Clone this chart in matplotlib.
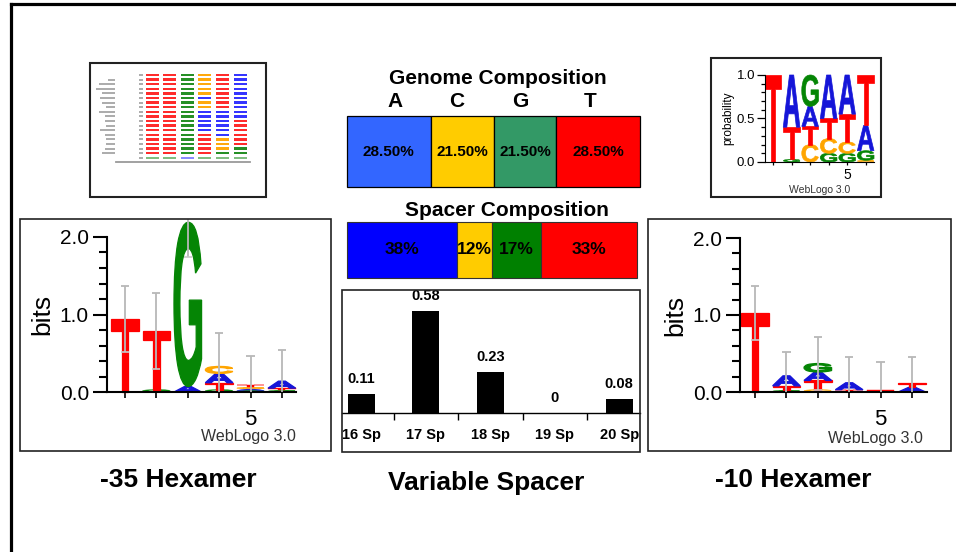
import matplotlib
matplotlib.use('Agg')
import matplotlib.pyplot as plt
from matplotlib.patches import Rectangle, PathPatch
from matplotlib.textpath import TextPath
from matplotlib.font_manager import FontProperties
from matplotlib.transforms import Affine2D
from matplotlib.lines import Line2D
import numpy as np

plt.rcParams['font.family'] = ['Liberation Sans', 'DejaVu Sans']

# DATA
bases = ['A', 'C', 'G', 'T']
genome_pct = [28.5, 21.5, 21.5, 28.5]
genome_labels = ['28.50%', '21.50%', '21.50%', '28.50%']
spacer_pct = [38, 12, 17, 33]
spacer_labels = ['38%', '12%', '17%', '33%']

spacer_lengths = ['16 Sp', '17 Sp', '18 Sp', '19 Sp', '20 Sp']
spacer_freq = [0.11, 0.58, 0.23, 0.0, 0.08]
spacer_freq_labels = ['0.11', '0.58', '0.23', '0', '0.08']

# -35 hexamer, bits per letter, stacked bottom -> top
minus35_bits = [
    [('T', 0.94)],
    [('G', 0.03), ('T', 0.76)],
    [('A', 0.07), ('G', 2.12)],
    [('G', 0.03), ('T', 0.09), ('A', 0.12), ('C', 0.09)],
    [('G', 0.02), ('A', 0.02), ('C', 0.02), ('T', 0.03)],
    [('G', 0.02), ('T', 0.03), ('A', 0.09)],
]
minus35_err = [0.43, 0.49, 0.45, 0.43, 0.37, 0.40]

# -10 hexamer, bits
minus10_bits = [
    [('T', 1.03)],
    [('G', 0.02), ('T', 0.06), ('A', 0.13)],
    [('C', 0.03), ('T', 0.12), ('A', 0.11), ('G', 0.11)],
    [('T', 0.03), ('A', 0.09)],
    [('A', 0.01), ('T', 0.01)],
    [('A', 0.06), ('T', 0.06)],
]
minus10_err = [0.35, 0.31, 0.35, 0.34, 0.37, 0.34]

# -10 hexamer, probability
minus10_prob = [
    [('T', 1.0)],
    [('G', 0.03), ('T', 0.37), ('A', 0.60)],
    [('C', 0.20), ('T', 0.21), ('A', 0.23), ('G', 0.36)],
    [('G', 0.10), ('C', 0.17), ('T', 0.23), ('A', 0.50)],
    [('G', 0.10), ('C', 0.13), ('T', 0.32), ('A', 0.45)],
    [('C', 0.02), ('G', 0.11), ('A', 0.29), ('T', 0.58)],
]

# -35 alignment thumbnail
align_seqs = ['TTGCTA', 'TTGCTA', 'TTGCTA', 'TTGCTA', 'TTGCTA', 'TTGATA',
              'TTGCTA', 'TTGCTA', 'TTGAAA', 'TTGAAA', 'TTGAAT', 'TTGAAT',
              'TTGAAT', 'TTGTAT', 'TTGTCT', 'TTGTCT', 'TTGTCG', 'TTGTGG',
              'GGAGGG']
align_name_len = [0, 5, 11, 13, 9, 10, 9, 6, 11, 7, 7, 6, 10, 7, 6, 6, 7, 9, 0]

logo_colors = {'A': '#1515d8', 'C': '#ffa500', 'G': '#058505', 'T': '#ff0000'}
align_colors = {'A': '#2a2aff', 'C': '#ffa500', 'G': '#1a8a1a', 'T': '#ff2020'}
genome_colors = ['#3366ff', '#ffcc00', '#339966', '#ff0000']
spacer_colors = ['#0000ff', '#ffcc00', '#008000', '#ff0000']

W, H = 956, 552
fig = plt.figure(figsize=(W / 100, H / 100), dpi=100)
LETTER_FONT = FontProperties(family='Liberation Sans', weight='bold')


def px_axes(x0, y0, x1, y1):
    return fig.add_axes([x0 / W, 1 - y1 / H, (x1 - x0) / W, (y1 - y0) / H])


def px_text(x, y, s, **kw):
    return fig.text(x / W, 1 - y / H, s, ha='center', va='center', **kw)


def px_box(x0, y0, x1, y1, lw=1.2, color='#222222'):
    r = Rectangle((x0 / W, 1 - y1 / H), (x1 - x0) / W, (y1 - y0) / H,
                  transform=fig.transFigure, fill=False, ec=color, lw=lw)
    fig.add_artist(r)
    return r


def draw_letter(ax, ch, xc, y0, w, h, color, stroke):
    tp = TextPath((0, 0), ch, size=1, prop=LETTER_FONT)
    bb = tp.get_extents()
    tr = Affine2D().translate(-bb.x0, -bb.y0).scale(w / bb.width, h / bb.height).translate(xc - w / 2, y0)
    # a thin stroke of the same colour thickens the stems a little
    ax.add_patch(PathPatch(tr.transform_path(tp), fc=color, ec=color, lw=stroke,
                           joinstyle='miter', clip_on=False, zorder=2))


def draw_logo(ax, stacks, width=0.88, stroke=0.9):
    tops = []
    for i, stack in enumerate(stacks):
        y = 0
        for ch, h in stack:
            draw_letter(ax, ch, i + 1, y, width, h, logo_colors[ch], stroke if h > 0.05 else 0.3)
            y += h
        tops.append(y)
    return tops


def draw_errors(ax, tops, errs, clip=None, cap=0.13):
    pos = np.arange(1, len(tops) + 1)
    tops = np.array(tops)
    errs = np.array(errs)
    hi = tops + errs
    lo = np.clip(tops - errs, 0, None)
    arts = [ax.vlines(pos, lo, hi, color='#b8b8b8', lw=1.3, zorder=3),
            ax.hlines(hi, pos - cap, pos + cap, color='#b8b8b8', lw=1.3, zorder=3)]
    keep = lo > 0
    arts.append(ax.hlines(lo[keep], pos[keep] - cap, pos[keep] + cap, color='#c8c8c8', lw=1.2, zorder=3))
    for a in arts:
        a.set_clip_on(True)
        if clip is not None:
            a.set_clip_path(clip)


def style_bits_axes(ax, xlim):
    ax.set_xlim(*xlim)
    ax.set_ylim(0, 2.0)
    for s in ['top', 'right']:
        ax.spines[s].set_visible(False)
    for s in ['left', 'bottom']:
        ax.spines[s].set_linewidth(1.5)
    ax.set_yticks([0, 1, 2])
    ax.set_yticklabels(['0.0', '1.0', '2.0'], fontsize=15)
    ax.set_yticks(np.arange(0, 2.01, 0.2), minor=True)
    ax.tick_params(axis='y', which='major', length=10, width=1.5, pad=3)
    ax.tick_params(axis='y', which='minor', length=6, width=1.5)
    ax.set_xticks(range(1, 7))
    ax.set_xticklabels(['', '', '', '', '5', ''], fontsize=16)
    ax.tick_params(axis='x', which='major', length=4, width=1.2, pad=8)
    ax.patch.set_alpha(0)


# outer frame (left and top edges)
fig.add_artist(Line2D([11 / W, 11 / W], [0, 1 - 4 / H], transform=fig.transFigure, color='black', lw=2.3))
fig.add_artist(Line2D([11 / W, 1], [1 - 4 / H, 1 - 4 / H], transform=fig.transFigure, color='black', lw=2.3))

# ---- alignment thumbnail
px_box(90, 63, 266, 197, lw=1.5)
ax_al = px_axes(91, 64, 265, 196)
ax_al.set_xlim(91, 265)
ax_al.set_ylim(196, 64)
ax_al.axis('off')
row_y0, row_h = 75, 4.6
col_x0, col_w = 152, 17.6
for j, seq in enumerate(align_seqs):
    y = row_y0 + j * row_h
    for i, ch in enumerate(seq):
        c = align_colors[ch]
        alpha = 0.55 if j == len(align_seqs) - 1 else 0.95
        ax_al.add_patch(Rectangle((col_x0 + i * col_w - 6.5, y - 1.2), 13, 2.4, fc=c, ec='none', alpha=alpha))
    if align_name_len[j]:
        ax_al.add_patch(Rectangle((115 - align_name_len[j] * 1.5, y - 1.0), align_name_len[j] * 1.5, 2.0,
                                  fc='#8a8a8a', ec='none', alpha=0.7))
    ax_al.add_patch(Rectangle((139, y - 1.0), 4, 2.0, fc='#8a8a8a', ec='none', alpha=0.7))
ax_al.plot([116, 250], [row_y0 + len(align_seqs) * row_h, row_y0 + len(align_seqs) * row_h],
           color='#9a9a9a', lw=1.3)

# ---- genome composition
px_text(498, 79, 'Genome Composition', fontsize=15, fontweight='bold')
for b, x in zip(bases, [395, 457, 520, 590]):
    px_text(x, 102, b, fontsize=15, fontweight='bold')
ax_g = px_axes(347, 116, 640, 187)
left = np.concatenate([[0], np.cumsum(genome_pct)[:-1]])
ax_g.barh(0.5, genome_pct, left=left, height=1, color=genome_colors, edgecolor='black', lw=0.9, clip_on=False)
for l, p, lab in zip(left, genome_pct, genome_labels):
    ax_g.text(l + p / 2, 0.5, lab, ha='center', va='center', fontsize=11, fontweight='bold')
ax_g.set_xlim(0, 100)
ax_g.set_ylim(0, 1)
ax_g.axis('off')

# ---- spacer composition
px_text(507, 211, 'Spacer Composition', fontsize=15, fontweight='bold')
ax_s = px_axes(347, 222, 637, 278)
left = np.concatenate([[0], np.cumsum(spacer_pct)[:-1]])
ax_s.barh(0.5, spacer_pct, left=left, height=1, color=spacer_colors, edgecolor='#333333', lw=0.8, clip_on=False)
for l, p, lab in zip(left, spacer_pct, spacer_labels):
    ax_s.text(l + p / 2, 0.5, lab, ha='center', va='center', fontsize=12.5, fontweight='bold')
ax_s.set_xlim(0, 100)
ax_s.set_ylim(0, 1)
ax_s.axis('off')

# ---- spacer length bar chart
px_box(342, 290, 640, 452, lw=1.2)
ax_b = px_axes(342, 290, 640, 452)
xs = np.arange(len(spacer_lengths))
ax_b.bar(xs, spacer_freq, width=0.42, color='black')
for x, v, lab in zip(xs, spacer_freq, spacer_freq_labels):
    ax_b.annotate(lab, (x, v), xytext=(0, 15), textcoords='offset pixels', ha='center', va='center',
                  fontsize=10.5, fontweight='bold')
    ax_b.text(x, -0.125, spacer_lengths[x], ha='center', va='center', fontsize=10.5, fontweight='bold')
ax_b.set_xlim(-0.303, 4.324)
ax_b.set_ylim(-0.222, 0.699)
for s in ['top', 'right', 'left']:
    ax_b.spines[s].set_visible(False)
ax_b.spines['bottom'].set_position(('data', 0))
ax_b.spines['bottom'].set_linewidth(1.0)
ax_b.set_yticks([])
ax_b.set_xticks(xs[:-1] + 0.5)
ax_b.set_xticklabels([])
ax_b.tick_params(axis='x', length=5, width=1.0)
ax_b.patch.set_alpha(0)

# ---- -35 bits logo
box35 = px_box(20, 219, 331, 451, lw=1.2)
ax35 = px_axes(107, 237, 296, 392)
style_bits_axes(ax35, (0.425, 6.45))
tops = draw_logo(ax35, minus35_bits)
draw_errors(ax35, tops, minus35_err, clip=box35)
ax35.set_ylabel('bits', fontsize=19, labelpad=4)
px_text(248, 437, 'WebLogo 3.0', fontsize=11.5, color='#333333')

# ---- -10 bits logo
box10 = px_box(648, 219, 951, 451, lw=1.2)
ax10 = px_axes(740, 238, 927, 392)
style_bits_axes(ax10, (0.52, 6.48))
tops = draw_logo(ax10, minus10_bits)
draw_errors(ax10, tops, minus10_err, clip=box10)
ax10.set_ylabel('bits', fontsize=19, labelpad=4)
px_text(875, 438, 'WebLogo 3.0', fontsize=11.5, color='#333333')

# ---- -10 probability logo
px_box(711, 58, 881, 197, lw=1.5)
axp = px_axes(765, 75, 874, 162)
draw_logo(axp, minus10_prob, width=0.9, stroke=0.5)
axp.set_xlim(0.565, 6.45)
axp.set_ylim(0, 1)
for s in ['top', 'right']:
    axp.spines[s].set_visible(False)
axp.set_yticks([0, 0.5, 1.0])
axp.set_yticklabels(['0.0', '0.5', '1.0'], fontsize=9.5)
axp.set_yticks(np.arange(0, 1.01, 0.1), minor=True)
axp.tick_params(axis='y', which='major', length=6, width=0.9, pad=1)
axp.tick_params(axis='y', which='minor', length=3, width=0.9)
axp.set_xticks(range(1, 7))
axp.set_xticklabels(['', '', '', '', '5', ''], fontsize=10)
axp.tick_params(axis='x', length=2.5, width=0.9, pad=2)
axp.patch.set_alpha(0)
px_text(728, 118, 'probability', fontsize=8.5, rotation=90)
px_text(820, 190, 'WebLogo 3.0', fontsize=7.5, color='#333333')

# ---- section labels
px_text(178, 480, '-35 Hexamer', fontsize=19, fontweight='bold')
px_text(486, 483, 'Variable Spacer', fontsize=19, fontweight='bold')
px_text(793, 480, '-10 Hexamer', fontsize=19, fontweight='bold')

fig.savefig('out.png', dpi=100)
